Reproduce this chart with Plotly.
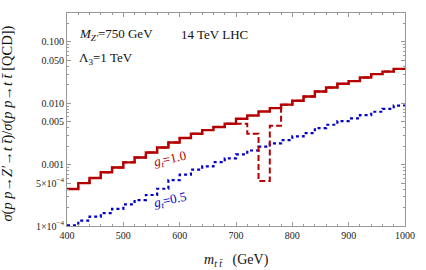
import plotly.graph_objects as go

# bin left edges (GeV) and the right edge of the last bin
mass_edges = [400, 420, 440, 460, 480, 500, 520, 540, 560, 580,
              600, 620, 640, 660, 680, 700, 720, 740, 760, 780,
              800, 820, 840, 860, 880, 900, 920, 940, 960, 980, 1000]

ratio_gt10 = [4.0e-4, 5.0e-4, 6.05e-4, 7.5e-4, 9.0e-4, 1.09e-3, 1.31e-3, 1.58e-3, 1.9e-3, 2.3e-3,
              2.72e-3, 3.19e-3, 3.66e-3, 4.1e-3, 4.64e-3, 5.6e-3, 6.34e-3, 7.37e-3, 8.36e-3, 9.5e-3,
              0.0110, 0.0129, 0.0156, 0.0181, 0.0208, 0.0230, 0.0263, 0.0299, 0.0329, 0.0364]

ratio_gt10_dashed = [4.0e-4, 5.0e-4, 6.05e-4, 7.5e-4, 9.0e-4, 1.09e-3, 1.31e-3, 1.58e-3, 1.9e-3, 2.3e-3,
                     2.72e-3, 3.19e-3, 3.66e-3, 4.1e-3, 4.64e-3, 4.64e-3, 3.19e-3, 5.4e-4, 4.3e-3, 9.5e-3,
                     0.0110, 0.0129, 0.0156, 0.0181, 0.0208, 0.0230, 0.0263, 0.0299, 0.0329, 0.0364]

ratio_gt05 = [1.02e-4, 1.22e-4, 1.42e-4, 1.62e-4, 1.9e-4, 2.25e-4, 2.65e-4, 3.2e-4, 4.05e-4, 5.6e-4,
              6.9e-4, 8.3e-4, 9.4e-4, 1.1e-3, 1.27e-3, 1.47e-3, 1.7e-3, 1.96e-3, 2.22e-3, 2.52e-3,
              2.89e-3, 3.27e-3, 3.95e-3, 4.47e-3, 5.14e-3, 5.66e-3, 6.43e-3, 7.28e-3, 8.14e-3, 9.2e-3]

y_tickvals = [1e-4, 5e-4, 0.001, 0.005, 0.010, 0.050, 0.100]
y_ticktext = ["1×10<sup>−4</sup>", "5×10<sup>−4</sup>", "0.001", "0.005", "0.010", "0.050", "0.100"]
y_minor = [2e-4, 3e-4, 4e-4, 6e-4, 7e-4, 8e-4, 9e-4,
           2e-3, 3e-3, 4e-3, 6e-3, 7e-3, 8e-3, 9e-3,
           2e-2, 3e-2, 4e-2, 6e-2, 7e-2, 8e-2, 9e-2, 0.2]
x_tickvals = [400, 500, 600, 700, 800, 900, 1000]
x_minor = [420, 440, 460, 480, 520, 540, 560, 580, 620, 640, 660, 680, 720, 740, 760, 780,
           820, 840, 860, 880, 920, 940, 960, 980]

RED = "#b40000"
BLUE = "#0000c8"
SERIF = "Liberation Serif"


def steps(vals):
    return vals + [vals[-1]]


fig = go.Figure()
fig.add_trace(go.Scatter(x=mass_edges, y=steps(ratio_gt05), mode="lines", line_shape="hv",
                         line=dict(color=BLUE, width=2.2, dash="dot"), showlegend=False))
fig.add_trace(go.Scatter(x=mass_edges, y=steps(ratio_gt10_dashed), mode="lines", line_shape="hv",
                         line=dict(color=RED, width=2, dash="6px,3px"), showlegend=False))
fig.add_trace(go.Scatter(x=mass_edges, y=steps(ratio_gt10), mode="lines", line_shape="hv",
                         line=dict(color=RED, width=2.4), showlegend=False))

axis_common = dict(showgrid=False, zeroline=False, mirror="allticks", showline=True,
                   linecolor="#999999", linewidth=1, ticks="inside", tickcolor="#999999",
                   ticklen=4, tickfont=dict(family=SERIF, size=10, color="#222222"))

fig.update_xaxes(range=[400, 1000], tickvals=x_tickvals,
                 minor=dict(tickvals=x_minor, ticks="inside", ticklen=2, tickcolor="#999999"),
                 **axis_common)
fig.update_yaxes(type="log", range=[-4, -0.528], tickvals=y_tickvals, ticktext=y_ticktext,
                 minor=dict(tickvals=y_minor, ticks="inside", ticklen=2, tickcolor="#999999"),
                 **axis_common)

ann_font = dict(family=SERIF, size=13, color="#111111")
fig.add_annotation(x=0.03, y=0.90, xref="paper", yref="paper", xanchor="left", yanchor="middle",
                   text="<i>M</i><sub><i>Z′</i></sub>=750 GeV", showarrow=False, font=ann_font)
fig.add_annotation(x=0.33, y=0.90, xref="paper", yref="paper", xanchor="left", yanchor="middle",
                   text="14 TeV LHC", showarrow=False, font=ann_font)
fig.add_annotation(x=0.03, y=0.785, xref="paper", yref="paper", xanchor="left", yanchor="middle",
                   text="Λ<sub>3</sub>=1 TeV", showarrow=False, font=ann_font)

fig.add_annotation(x=0.305, y=0.31, xref="paper", yref="paper", xanchor="center", yanchor="middle",
                   text="<i>g</i><sub><i>t</i></sub>=1.0", showarrow=False, textangle=-12,
                   font=dict(family=SERIF, size=13, color=RED))
fig.add_annotation(x=0.305, y=0.12, xref="paper", yref="paper", xanchor="center", yanchor="middle",
                   text="<i>g</i><sub><i>t</i></sub>=0.5", showarrow=False, textangle=-12,
                   font=dict(family=SERIF, size=13, color=BLUE))

fig.add_annotation(x=0.5, y=-0.115, xref="paper", yref="paper", xanchor="center", yanchor="top",
                   text="<i>m</i><sub><i>t t̄</i></sub>   (GeV)", showarrow=False,
                   font=dict(family=SERIF, size=14, color="#111111"))
fig.add_annotation(x=-0.175, y=0.48, xref="paper", yref="paper", xanchor="center", yanchor="middle",
                   text="<i>σ</i>(<i>p p</i>→<i>Z′</i>→<i>t t̄</i>)/<i>σ</i>(<i>p p</i>→<i>t t̄</i> [QCD])",
                   showarrow=False, textangle=-90,
                   font=dict(family=SERIF, size=14.5, color="#111111"))

fig.update_layout(width=426, height=270, margin=dict(l=67, r=11, t=13, b=44),
                  paper_bgcolor="white", plot_bgcolor="white", showlegend=False)

fig.write_html("out.html", config={"displayModeBar": False},
               post_script="document.body.style.margin='0px';")
